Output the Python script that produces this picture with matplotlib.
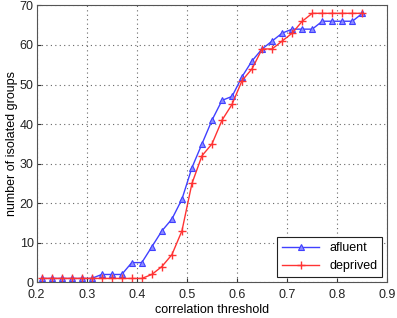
import numpy as np
from matplotlib import pyplot as plt

# correlation thresholds
threshold = np.round(np.arange(0.21, 0.851, 0.02), 2)

afluent = [1, 1, 1, 1, 1, 1, 2, 2, 2, 5, 5, 9, 13, 16, 21, 29, 35, 41, 46, 47,
           52, 56, 59, 61, 63, 64, 64, 64, 66, 66, 66, 66, 68]
deprived = [1, 1, 1, 1, 1, 1, 1, 1, 1, 1, 1, 2, 4, 7, 13, 25, 32, 35, 41, 45,
            51, 54, 59, 59, 61, 63, 66, 68, 68, 68, 68, 68, 68]

plt.rcParams['font.family'] = ['Liberation Sans', 'DejaVu Sans']
plt.rcParams['font.size'] = 9

fig = plt.figure(figsize=(3.97, 3.18), dpi=100)
ax = fig.add_axes([0.092, 0.112, 0.884, 0.871])

ax.plot(threshold, afluent, color=(0.25, 0.25, 1.0), marker='^', markersize=4,
        markerfacecolor=(0.55, 0.55, 1.0), markeredgewidth=0.8, linewidth=1, label='afluent')
ax.plot(threshold, deprived, color=(1.0, 0.2, 0.2), marker='+', markersize=6,
        markeredgewidth=1, linewidth=1, label='deprived')

ax.set_xlim(0.2, 0.9)
ax.set_ylim(0, 70)
ax.set_xticks(np.arange(0.2, 0.91, 0.1))
ax.set_xticklabels(['0.2', '0.3', '0.4', '0.5', '0.6', '0.7', '0.8', '0.9'])
ax.set_yticks(range(0, 71, 10))
ax.tick_params(direction='in', length=3, colors='#333333', labelcolor='#222222')
ax.tick_params(axis='x', pad=5)
ax.tick_params(axis='y', pad=2)
ax.grid(True, linestyle=(0, (1, 3)), color='#666666', linewidth=0.8)
for s in ax.spines.values():
    s.set_color('#555555')

ax.set_xlabel('correlation threshold', labelpad=2)
ax.set_ylabel('number of isolated groups', labelpad=1)

leg = ax.legend(loc='lower right', fancybox=False, framealpha=1, edgecolor='#222222',
                handlelength=3, borderaxespad=0.4, fontsize=9)
leg.get_frame().set_linewidth(0.8)

fig.savefig('out.png', dpi=100)
